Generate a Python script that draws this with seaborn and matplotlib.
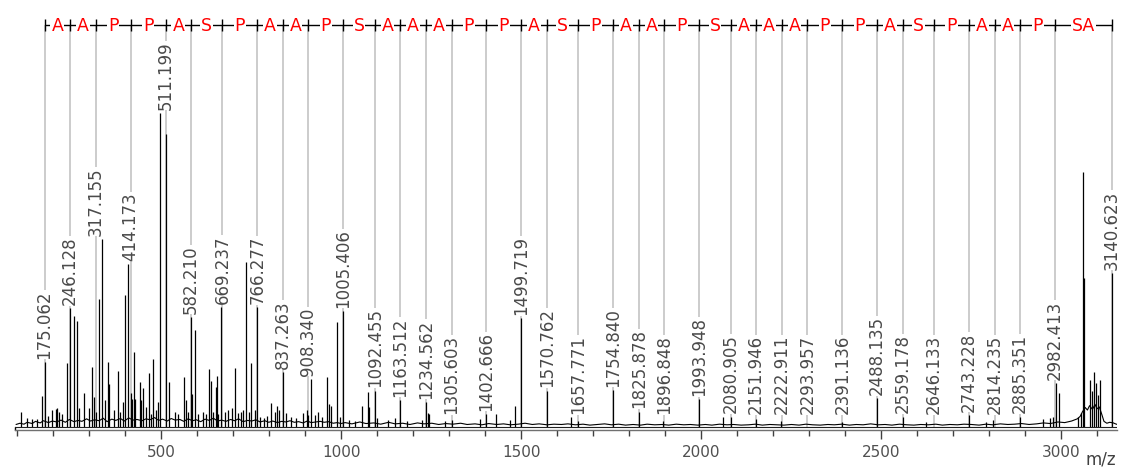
import matplotlib
matplotlib.use("Agg")
import matplotlib.pyplot as plt
from matplotlib.ticker import MultipleLocator
import seaborn as sns

# ---------------- data ----------------
# fragment ions (labelled, with sequence ladder)
frag_mz = [175.062, 246.128, 317.155, 414.173, 511.199, 582.210, 669.237, 766.277,
           837.263, 908.340, 1005.406, 1092.455, 1163.512, 1234.562, 1305.603,
           1402.666, 1499.719, 1570.762, 1657.771, 1754.840, 1825.878, 1896.848,
           1993.948, 2080.905, 2151.946, 2222.911, 2293.957, 2391.136, 2488.135,
           2559.178, 2646.133, 2743.228, 2814.235, 2885.351, 2982.413, 3140.623]
residues = ["A", "A", "P", "P", "A", "S", "P", "A", "A", "P", "S", "A", "A", "A",
            "P", "P", "A", "S", "P", "A", "A", "P", "S", "A", "A", "A", "P", "P",
            "A", "S", "P", "A", "A", "P", "SA"]

# spectrum peaks (m/z, relative intensity %)
peak_mz = [111, 125.5, 139, 153, 169, 175.06, 185.6, 195, 206, 211,
           216, 223, 236.6, 245, 257, 265.3, 271, 283.8, 299, 307.8,
           312.5, 317.2, 327.3, 335.7, 343, 352.3, 355, 369, 378.3, 384,
           394, 398.6, 407, 414.2, 418, 423.6, 427, 439.4, 444, 449.5,
           456, 466.1, 472, 477.2, 486, 491, 495, 511.2, 521.7, 537,
           546, 562.5, 567, 574, 582.2, 585, 593, 602, 614, 625,
           632.8, 636.6, 643, 650.5, 653.3, 657, 666, 676, 685.6, 694.9,
           704.2, 711.6, 720.9, 727, 733.9, 743, 749.5, 759.7, 766.3, 773.6,
           785.6, 792, 804.2, 815, 821.7, 827, 837.3, 845.6, 861, 875,
           892, 903.5, 908.3, 916, 926.9, 934, 945.5, 959.7, 965.8, 971,
           987.5, 997, 1005.4, 1019.5, 1038, 1057.8, 1072.8, 1076, 1092.5, 1098,
           1130, 1149, 1163.5, 1181, 1223, 1234.6, 1239, 1243, 1287.6, 1305.6,
           1384.5, 1402.7, 1428.3, 1468, 1481.9, 1499.7, 1570.8, 1637.5, 1657.8, 1754.8,
           1825.9, 1894, 1994, 2059, 2080.9, 2151.9, 2221, 2389, 2488.1, 2559.2,
           2625, 2743.2, 2791, 2810, 2885.4, 2949.5, 2968, 2977, 2984, 2994,
           3047, 3053, 3061, 3063.3, 3079, 3083.6, 3090.3, 3095.8, 3102, 3107,
           3140.6]
peak_int = [4.7, 3.0, 2.7, 2.5, 9.9, 20.8, 3.6, 5.4, 5.6, 5.9,
            4.8, 4.2, 20.3, 37.8, 35.4, 33.9, 5.9, 10.7, 5.9, 19.2,
            9.7, 4.8, 40.8, 59.9, 8.6, 20.6, 13.7, 5.4, 17.9, 4.8,
            8.1, 42.0, 51.9, 10.7, 9.0, 24.0, 9.0, 14.3, 8.6, 12.4,
            6.5, 17.3, 4.2, 21.8, 5.4, 8.0, 100.0, 93.2, 14.4, 4.8,
            4.2, 15.8, 8.6, 4.8, 35.1, 10.4, 30.9, 4.2, 4.8, 4.2,
            18.4, 14.6, 4.8, 12.7, 16.2, 4.2, 38.3, 4.8, 5.4, 6.0,
            18.7, 4.4, 4.9, 5.4, 52.6, 4.9, 20.3, 5.4, 38.1, 3.3,
            2.8, 3.5, 7.5, 4.9, 6.7, 5.4, 17.6, 4.6, 3.3, 2.8,
            4.6, 5.4, 3.9, 15.3, 3.9, 4.9, 3.3, 16.0, 7.3, 6.7,
            33.4, 3.3, 36.9, 2.3, 1.8, 6.8, 11.2, 6.3, 11.6, 2.8,
            2.3, 2.8, 8.6, 2.0, 2.3, 7.9, 4.4, 4.2, 2.0, 2.2,
            2.5, 4.1, 4.1, 2.2, 6.7, 34.6, 11.6, 3.3, 1.9, 11.8,
            4.9, 2.0, 8.8, 3.1, 3.3, 2.5, 2.0, 1.7, 9.1, 3.3,
            1.7, 3.8, 1.7, 2.3, 3.3, 2.4, 2.8, 3.3, 14.0, 10.9,
            3.3, 4.4, 81.3, 47.5, 15.0, 11.6, 17.6, 13.9, 10.2, 15.0,
            49.1]

# baseline noise trace
noise_mz = [96, 107, 118, 127, 141, 150, 163, 172, 186, 197,
            209, 221, 233, 244, 257, 268, 279, 292, 303, 314,
            327, 338, 349, 362, 373, 386, 397, 409, 421, 432,
            446, 457, 468, 481, 492, 503, 516, 527, 538, 551,
            562, 574, 586, 597, 609, 621, 633, 644, 656, 667,
            679, 692, 703, 714, 727, 739, 751, 762, 774, 787,
            798, 809, 822, 834, 846, 857, 869, 881, 893, 905,
            916, 929, 941, 952, 964, 977, 988, 999,
            1010, 1029, 1051, 1068, 1090, 1109, 1131, 1149, 1170, 1190,
            1211, 1229, 1251, 1270, 1290, 1309, 1331, 1349, 1371, 1390,
            1409, 1431, 1450, 1469, 1491, 1510, 1530, 1549, 1571, 1590,
            1611, 1629, 1650, 1671, 1690, 1709, 1731, 1750, 1770, 1789,
            1810, 1831, 1849, 1870, 1891, 1909, 1930, 1951, 1969, 1990,
            2011, 2029, 2050, 2071, 2089, 2110, 2131, 2150, 2169, 2190,
            2211, 2229, 2250, 2271, 2290, 2309, 2330, 2351, 2369, 2390,
            2411, 2430, 2449, 2470, 2491, 2510, 2529, 2550, 2571, 2590,
            2609, 2630, 2651, 2669, 2690, 2711, 2729, 2750, 2771, 2790,
            2809, 2830, 2851, 2870, 2889, 2910, 2931, 2950, 2969, 2990,
            3009, 3028, 3044, 3052, 3058, 3066, 3072, 3078, 3086, 3093,
            3099, 3105, 3112, 3118, 3126, 3134, 3144, 3150, 3155]
noise_int = [0.8, 1.2, 0.9, 1.5, 1.1, 1.8, 1.3, 2.0, 1.4, 1.9,
             1.6, 2.2, 1.5, 2.4, 1.7, 2.1, 1.8, 2.6, 1.9, 2.3,
             2.0, 2.8, 1.7, 2.5, 2.1, 2.7, 1.9, 2.9, 2.2, 2.4,
             2.0, 2.6, 2.3, 3.0, 2.1, 2.5, 1.9, 2.7, 2.2, 2.4,
             1.8, 2.6, 2.0, 2.3, 1.7, 2.5, 2.1, 2.8, 1.9, 2.2,
             1.8, 2.4, 2.0, 2.6, 1.7, 2.1, 1.9, 2.3, 1.6, 2.0,
             1.5, 1.9, 1.4, 1.8, 1.6, 2.0, 1.5, 1.7, 1.3, 1.9,
             1.4, 1.6, 1.8, 1.5, 1.7, 1.2, 1.4, 1.1,
             1.4, 1.0, 1.6, 1.1, 1.3, 0.9, 1.5, 1.0, 1.2, 0.8,
             1.3, 1.0, 1.2, 0.8, 1.1, 0.9, 1.2, 0.8, 1.0, 0.7,
             1.1, 0.8, 1.0, 0.7, 0.9, 1.2, 0.8, 1.0, 0.7, 0.9,
             0.8, 1.0, 0.7, 0.9, 0.6, 0.8, 1.0, 0.7, 0.9, 0.6,
             0.8, 0.6, 0.9, 0.7, 0.8, 0.6, 0.9, 0.7, 0.8, 0.6,
             0.8, 0.6, 0.9, 0.7, 0.8, 0.6, 0.7, 0.9, 0.6, 0.8,
             0.7, 0.6, 0.8, 0.6, 0.9, 0.7, 0.6, 0.8, 0.7, 0.9,
             0.6, 0.8, 0.7, 1.0, 0.7, 0.8, 0.6, 0.9, 0.7, 0.6,
             0.8, 0.7, 0.9, 0.6, 0.8, 0.7, 0.9, 0.8, 0.6, 0.9,
             0.7, 1.0, 0.8, 0.9, 1.1, 0.8, 1.0, 1.3, 1.1, 1.6,
             1.4, 1.9, 2.6, 3.4, 4.8, 6.2, 5.4, 6.8, 5.6, 7.2,
             5.8, 6.4, 4.0, 1.8, 1.2, 1.5, 1.3, 1.0, 0.8]

assert len(peak_mz) == len(peak_int)
assert len(noise_mz) == len(noise_int)
assert len(residues) == len(frag_mz) - 1

# ---------------- styling ----------------
sns.set_theme(style="white")
plt.rcParams['font.family'] = ['DejaVu Sans']

W, H = 1127, 468
fig = plt.figure(figsize=(W / 100, H / 100), dpi=100)
ax_left, ax_right, ax_top, ax_bottom = 15, 1117, 8, 430
ax = fig.add_axes([ax_left / W, 1 - ax_bottom / H,
                   (ax_right - ax_left) / W, (ax_bottom - ax_top) / H])

px_per_unit = 3.14
base_px = 427
ymin = -(ax_bottom - base_px) / px_per_unit
ymax = (base_px - ax_top) / px_per_unit
ax.set_ylim(ymin, ymax)
ax.set_xlim(93.1, 3154.2)

seq_y = (base_px - 25) / px_per_unit
tick_half = 6.2 / px_per_unit
letter_base = (base_px - 31.5) / px_per_unit

# gray guide lines for fragments
ax.vlines(frag_mz, 0, seq_y, color='#c8c8c8', lw=1.3, zorder=1)

# baseline noise + peaks
sns.lineplot(x=noise_mz, y=noise_int, ax=ax, color='black', lw=0.8,
             estimator=None, zorder=3)
ax.vlines(peak_mz, 0, peak_int, color='black', lw=0.9, zorder=3)
ax.axhline(0, color='#202020', lw=0.8, zorder=3)

# fragment labels above local maxima
all_mz = peak_mz + noise_mz
all_int = peak_int + noise_int
for m in frag_mz:
    local = [v for x, v in zip(all_mz, all_int) if abs(x - m) <= 20]
    ly = max(max(local) if local else 0, 3.0) + 1.0
    ax.text(m, ly, f"{m:.3f}", rotation=90, ha='center', va='bottom',
            fontsize=12, color='#4a4a4a', zorder=4,
            bbox=dict(facecolor='white', edgecolor='none', pad=0.3))

# sequence ladder
ax.hlines(seq_y, frag_mz[0], frag_mz[-1], color='black', lw=1.0, zorder=4)
ax.vlines(frag_mz, seq_y - tick_half, seq_y + tick_half, color='black',
          lw=1.0, zorder=4)
for a, b, r in zip(frag_mz[:-1], frag_mz[1:], residues):
    ax.text((a + b) / 2, letter_base, r, color='#ff0000', fontsize=12.5,
            ha='center', va='baseline', zorder=5,
            bbox=dict(facecolor='white', edgecolor='none', pad=0.6))

# axes styling
for s in ['top', 'right', 'left']:
    ax.spines[s].set_visible(False)
ax.spines['bottom'].set_color('#707070')
ax.spines['bottom'].set_linewidth(1.0)
ax.plot([0, 0], [0, (ax_bottom - base_px) / (ax_bottom - ax_top)],
        transform=ax.transAxes, color='black', lw=1.0, clip_on=False)
ax.set_yticks([])
ax.xaxis.set_major_locator(MultipleLocator(500))
ax.xaxis.set_minor_locator(MultipleLocator(100))
ax.tick_params(axis='x', which='both', bottom=True, direction='out',
               color='#404040', width=1.0)
ax.tick_params(axis='x', which='major', length=6.7, labelsize=11,
               labelcolor='#505050', pad=4)
ax.tick_params(axis='x', which='minor', length=4.5)
ax.set_xlabel('')
ax.set_ylabel('')
ax.grid(False)

fig.text(1116 / W, 1 - 459 / H, "m/z", ha='right', va='center',
         fontsize=12, color='#404040')

fig.savefig("out.png", dpi=100)
